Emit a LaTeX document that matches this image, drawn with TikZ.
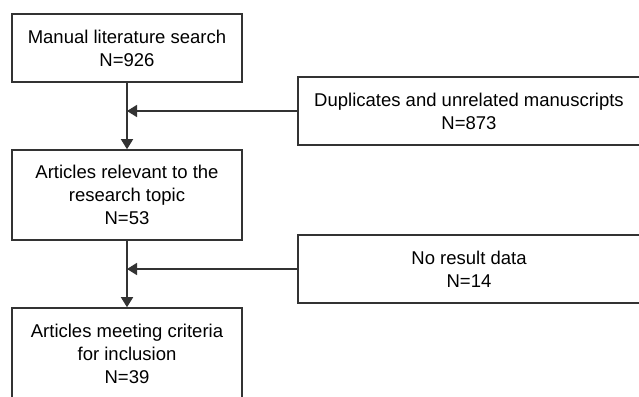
\documentclass[tikz,border=0pt]{standalone}
\usepackage{fontspec}
\setmainfont{Liberation Sans}
\usetikzlibrary{arrows.meta}
\definecolor{ln}{HTML}{333333}
\tikzset{
  boxnode/.style={draw=ln, line width=1.6pt, rectangle, align=center, inner sep=0pt,
    font=\fontsize{18.5}{23}\selectfont},
  arr/.style={draw=ln, line width=1.6pt, -{Triangle[width=12pt,length=10pt]}}
}
\begin{document}
\begin{tikzpicture}[x=1pt,y=-1pt]
\clip (0,0) rectangle (639,396);
\fill[white] (0,0) rectangle (639,396);
\node[boxnode, minimum width=230pt, minimum height=68pt] (b1) at (127,48) {Manual literature search\\N=926};
\node[boxnode, minimum width=230pt, minimum height=90pt] (b2) at (127,195) {Articles relevant to the\\research topic\\N=53};
\node[boxnode, minimum width=230pt, minimum height=92pt] (b3) at (127,354) {Articles meeting criteria\\for inclusion\\N=39};
\node[boxnode, minimum width=342pt, minimum height=68pt] (r1) at (469,111) {Duplicates and unrelated manuscripts\\N=873};
\node[boxnode, minimum width=342pt, minimum height=68pt] (r2) at (469,269) {No result data\\N=14};
\draw[arr] (b1.south) -- (b2.north);
\draw[arr] (b2.south) -- (b3.north);
\draw[arr] (r1.west) -- (r1.west -| b1.south);
\draw[arr] (r2.west) -- (r2.west -| b2.south);
\end{tikzpicture}
\end{document}
